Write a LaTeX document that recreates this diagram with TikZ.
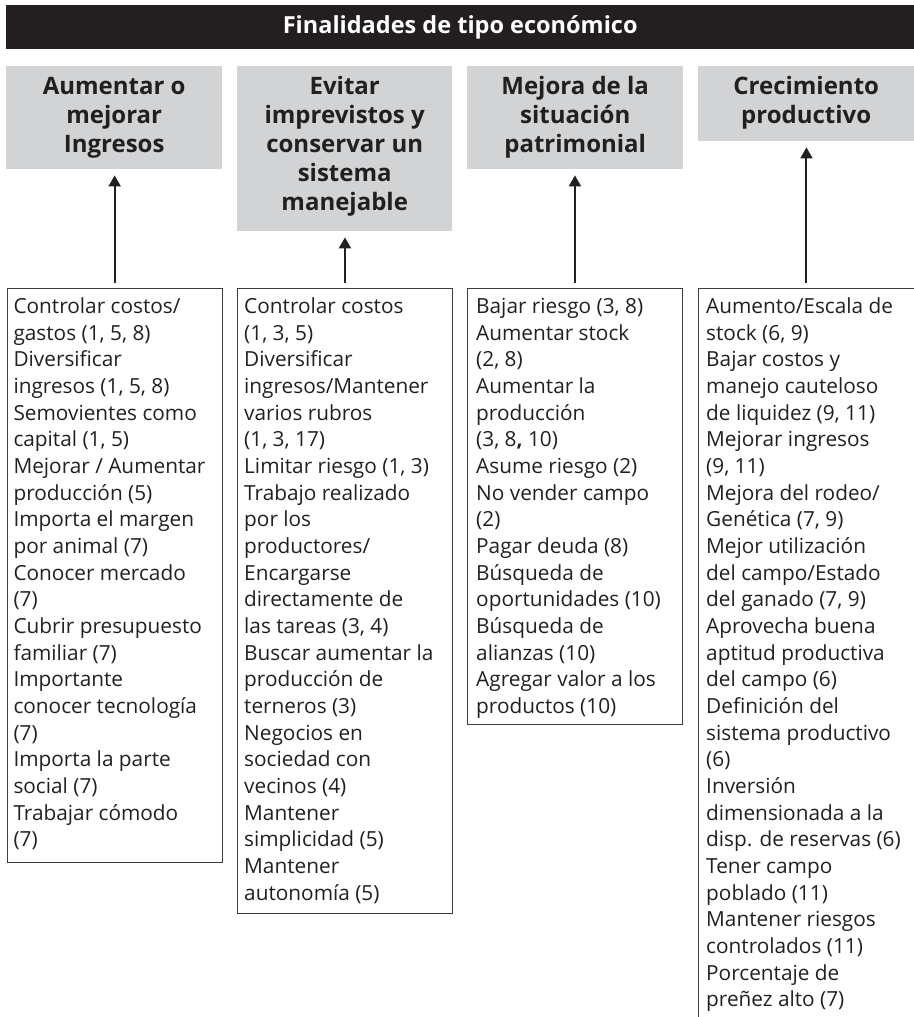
\documentclass[tikz,border=0pt]{standalone}
\usepackage{fontspec}
\setmainfont{Open Sans}
\usetikzlibrary{arrows.meta}
\definecolor{ink}{RGB}{35,31,32}
\definecolor{hdrgray}{RGB}{209,211,212}
\definecolor{boxline}{RGB}{60,60,60}
\tikzset{
  hdrbox/.style={fill=hdrgray, draw=none, inner sep=0pt, anchor=north west},
  hdrtext/.style={anchor=north, align=center, inner sep=0pt, text=ink, font=\bfseries\fontsize{24}{29}\selectfont},
  listbox/.style={draw=boxline, line width=0.9pt, inner sep=0pt, anchor=north west, minimum width=215pt},
  listtext/.style={anchor=north west, align=left, inner sep=0pt, text=ink, font=\fontsize{20.8}{26.67}\selectfont},
  uparrow/.style={draw=ink, line width=2pt, -{Triangle[width=12pt,length=11pt]}, shorten <=5.5pt, shorten >=6pt},
}
\newcommand\fl{\rule{0pt}{20pt}}
\begin{document}
\begin{tikzpicture}[x=1pt,y=-1pt]
\useasboundingbox (0,0) rectangle (913,1017);
\node[fill=ink, minimum width=908pt, minimum height=44pt, inner sep=0pt, anchor=north west, text=white, font=\bfseries\fontsize{23.5}{29}\selectfont, text height=18.5pt, text depth=5pt] (title) at (6,5) {Finalidades de tipo económico};

\node[hdrbox, minimum width=216pt, minimum height=103pt] (h1) at (6,66) {};
\node[hdrbox, minimum width=215pt, minimum height=165pt] (h2) at (237,66) {};
\node[hdrbox, minimum width=216pt, minimum height=103pt] (h3) at (467,66) {};
\node[hdrbox, minimum width=216pt, minimum height=75pt] (h4) at (698,66) {};

\node[hdrtext] (t1) at ([yshift=-8pt]h1.north) {\fl Aumentar o\\mejorar\\Ingresos};
\node[hdrtext] (t2) at ([yshift=-8pt]h2.north) {\fl Evitar\\imprevistos y\\conservar un\\sistema\\manejable};
\node[hdrtext] (t3) at ([yshift=-8pt]h3.north) {\fl Mejora de la\\situación\\patrimonial};
\node[hdrtext] (t4) at ([yshift=-8pt]h4.north) {\fl Crecimiento\\productivo};

\node[listbox, minimum height=574pt] (b1) at (6.7,288) {};
\node[listbox, minimum height=625pt] (b2) at (237,288) {};
\node[listbox, minimum height=436pt] (b3) at (467,288) {};
\node[listbox, minimum width=216pt, minimum height=760pt] (b4) at (698,288) {};

\node[listtext] (l1) at (13.3,293.3) {\fl Controlar costos/\\gastos (1, 5, 8)\\Diversificar\\ingresos (1, 5, 8)\\Semovientes como\\capital (1, 5)\\Mejorar / Aumentar\\producción (5)\\Importa el margen\\por animal (7)\\Conocer mercado\\(7)\\Cubrir presupuesto\\familiar (7)\\Importante\\conocer tecnología\\(7)\\Importa la parte\\social (7)\\Trabajar cómodo\\(7)};
\node[listtext] (l2) at (244,293.3) {\fl Controlar costos\\(1, 3, 5)\\Diversificar\\ingresos/Mantener\\varios rubros\\(1, 3, 17)\\Limitar riesgo (1, 3)\\Trabajo realizado\\por los\\productores/\\Encargarse\\directamente de\\las tareas (3, 4)\\Buscar aumentar la\\producción de\\terneros (3)\\Negocios en\\sociedad con\\vecinos (4)\\Mantener\\simplicidad (5)\\Mantener\\autonomía (5)};
\node[listtext] (l3) at (476,293.3) {\fl Bajar riesgo (3, 8)\\Aumentar stock\\(2, 8)\\Aumentar la\\producción\\(3, 8\textbf{,} 10)\\Asume riesgo (2)\\No vender campo\\(2)\\Pagar deuda (8)\\Búsqueda de\\oportunidades (10)\\Búsqueda de\\alianzas (10)\\Agregar valor a los\\productos (10)};
\node[listtext] (l4) at (706,293.3) {\fl Aumento/Escala de\\stock (6, 9)\\Bajar costos y\\manejo cauteloso\\de liquidez (9, 11)\\Mejorar ingresos\\(9, 11)\\Mejora del rodeo/\\Genética (7, 9)\\Mejor utilización\\del campo/Estado\\del ganado (7, 9)\\Aprovecha buena\\aptitud productiva\\del campo (6)\\Definición del\\sistema productivo\\(6)\\Inversión\\dimensionada a la\\disp. de reservas (6)\\Tener campo\\poblado (11)\\Mantener riesgos\\controlados (11)\\Porcentaje de\\preñez alto (7)};

\draw[uparrow] (b1.north) -- (b1.north |- h1.south);
\draw[uparrow] (b2.north) -- (b2.north |- h2.south);
\draw[uparrow] (b3.north) -- (b3.north |- h3.south);
\draw[uparrow] (b4.north) -- (b4.north |- h4.south);
\end{tikzpicture}
\end{document}
